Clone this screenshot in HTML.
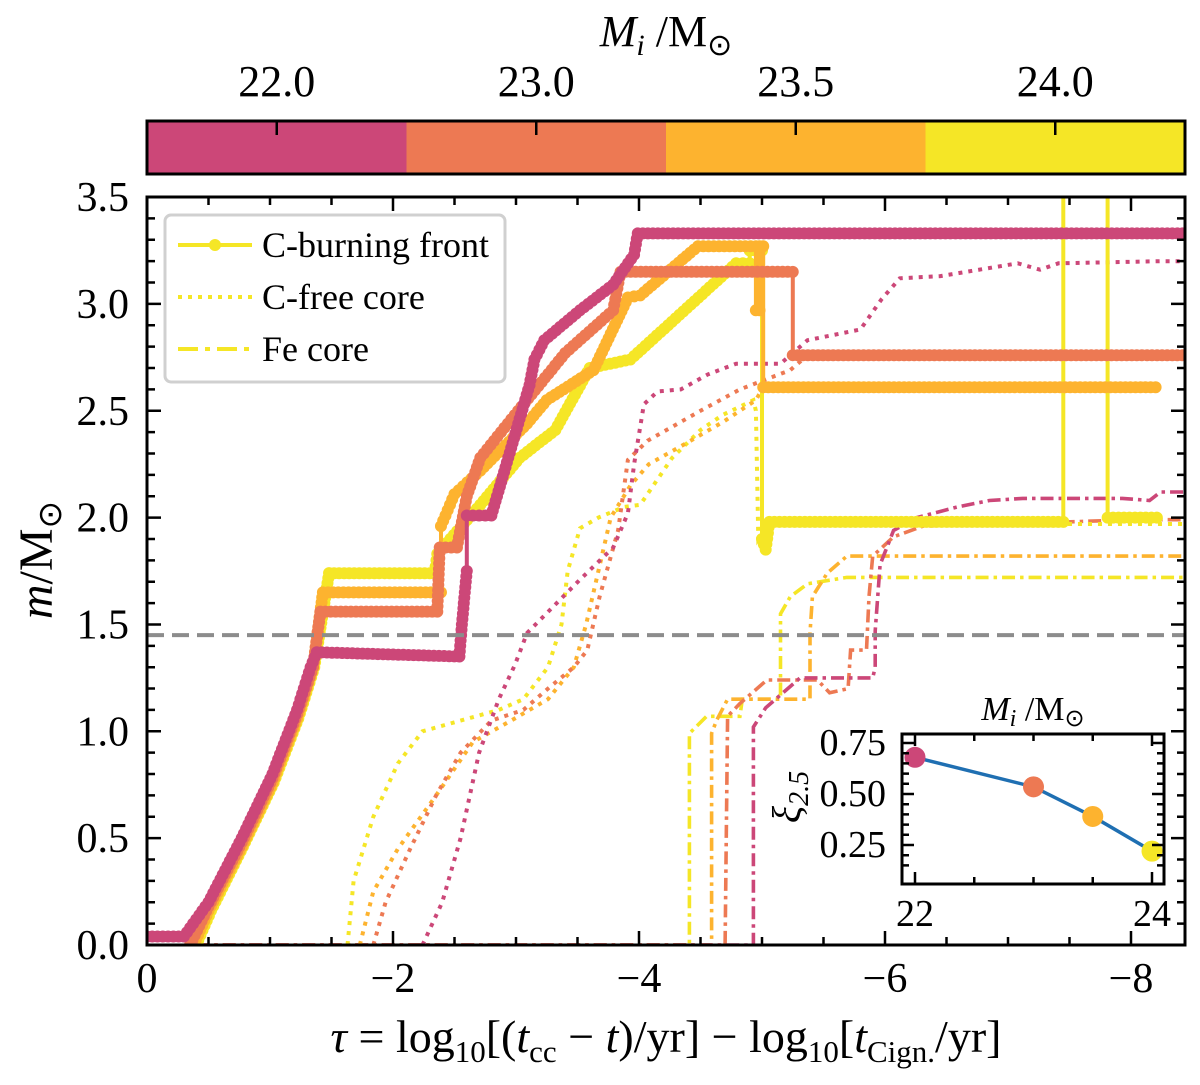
<!DOCTYPE html>
<html><head><meta charset="utf-8"><style>
body{margin:0;background:#fff;}
svg text{font-family:"Liberation Serif",serif;fill:#000;}
</style></head><body>
<svg id="fig" width="1200" height="1080" viewBox="0 0 1200 1080" xmlns="http://www.w3.org/2000/svg">
<g id="cbar"></g>
<g id="plot"></g>
<g id="inset"></g>
</svg>
<script>
// ---------- data ----------
const massLabels = ["22.0","23.0","23.5","24.0"];
const massValues = [22, 23, 23.5, 24];
const colors = ["#cc4778","#ed7953","#fdb32f","#f5e626"];
const xTicks = [0,-2,-4,-6,-8];
const xTickLabels = ["0","\u22122","\u22124","\u22126","\u22128"];
const yTicks = [0,0.5,1,1.5,2,2.5,3,3.5];
const yTickLabels = ["0.0","0.5","1.0","1.5","2.0","2.5","3.0","3.5"];
const chandraMass = 1.45;

const front22 = [[0,0.04],[-0.3,0.04],[-0.5,0.2],[-0.77,0.5],[-1.02,0.8],[-1.22,1.1],[-1.33,1.3],[-1.38,1.37],[-2.54,1.35],[-2.56,1.5],[-2.6,1.75],[-2.6,2.01],[-2.8,2.01],[-3.11,2.62],[-3.15,2.74],[-3.23,2.83],[-3.52,2.97],[-3.79,3.09],[-3.96,3.23],[-3.99,3.33],[-8.5,3.33]];
const front23 = [[-0.35,0],[-0.5,0.18],[-0.77,0.48],[-1.02,0.78],[-1.22,1.08],[-1.35,1.3],[-1.41,1.56],[-2.36,1.56],[-2.38,1.86],[-2.52,1.86],[-2.6,2.1],[-2.71,2.28],[-2.99,2.48],[-3.4,2.77],[-3.79,2.97],[-3.85,3.15],[-5.25,3.15],[-5.25,2.76],[-8.5,2.76]];
const front235 = [[-0.38,0],[-0.5,0.16],[-0.77,0.46],[-1.02,0.76],[-1.22,1.06],[-1.35,1.3],[-1.43,1.65],[-2.39,1.65],[-2.39,1.96],[-2.5,2.11],[-2.71,2.22],[-3.09,2.44],[-3.25,2.55],[-3.63,2.69],[-3.91,3.03],[-4.01,3.04],[-4.48,3.27],[-4.95,3.27],[-4.95,2.97],[-4.98,2.97],[-4.98,3.27],[-5.01,3.27],[-5.01,2.61],[-8.2,2.61]];
const front24 = [[-0.4,0],[-0.52,0.16],[-0.78,0.46],[-1.03,0.76],[-1.23,1.06],[-1.36,1.3],[-1.48,1.74],[-2.34,1.74],[-2.36,1.83],[-2.71,2.06],[-3.03,2.28],[-3.32,2.41],[-3.6,2.7],[-3.93,2.74],[-4.79,3.19],[-4.9,3.19],[-4.9,3.25],[-5.0,3.25],[-5.0,1.9],[-5.03,1.85],[-5.06,1.98],[-7.45,1.98],[-7.45,3.6],[-7.81,3.6],[-7.81,2.0],[-8.21,2.0]];

const cfree22 = [[-2.24,0],[-2.4,0.2],[-2.55,0.5],[-2.7,0.9],[-2.86,1.15],[-2.99,1.31],[-3.09,1.46],[-3.52,1.71],[-3.79,1.86],[-3.91,2.02],[-3.96,2.25],[-4.04,2.53],[-4.15,2.59],[-4.34,2.6],[-4.56,2.67],[-4.79,2.72],[-5.15,2.72],[-5.37,2.83],[-5.8,2.88],[-5.97,3.02],[-6.12,3.12],[-6.45,3.13],[-7.08,3.19],[-7.26,3.16],[-7.41,3.19],[-8.24,3.2],[-8.5,3.2]];
const cfree23 = [[-1.84,0],[-1.94,0.2],[-2.14,0.45],[-2.35,0.7],[-2.55,0.9],[-2.8,1.05],[-3.06,1.1],[-3.26,1.2],[-3.47,1.3],[-3.58,1.38],[-3.68,1.63],[-3.83,1.94],[-3.91,2.27],[-4.07,2.36],[-4.5,2.5],[-4.82,2.6],[-5.23,2.69],[-5.33,2.74]];
const cfree235 = [[-1.73,0],[-1.84,0.25],[-2.04,0.45],[-2.35,0.7],[-2.65,0.95],[-2.96,1.05],[-3.26,1.15],[-3.47,1.3],[-3.57,1.5],[-3.67,1.75],[-3.77,2.0],[-3.93,2.15],[-4.08,2.25],[-4.39,2.35],[-4.69,2.45],[-4.95,2.55],[-5.0,2.6]];
const cfree24 = [[-1.63,0],[-1.68,0.3],[-1.84,0.6],[-2.04,0.85],[-2.24,1.0],[-2.55,1.05],[-2.86,1.1],[-3.06,1.15],[-3.26,1.3],[-3.37,1.5],[-3.42,1.75],[-3.52,1.95],[-3.67,2.0],[-3.88,2.05],[-4.01,2.06],[-4.27,2.28],[-4.5,2.41],[-4.68,2.48],[-4.93,2.55],[-4.95,2.5],[-4.97,1.9],[-5.05,1.97],[-8.5,1.97]];

const fe22 = [[-0.4,0],[-4.93,0],[-4.93,1.02],[-5.03,1.11],[-5.31,1.25],[-5.9,1.25],[-5.92,1.3],[-5.92,1.47],[-5.96,1.78],[-6.07,1.94],[-6.26,2.0],[-6.59,2.05],[-6.85,2.08],[-7.12,2.09],[-7.93,2.09],[-8.15,2.08],[-8.24,2.12],[-8.5,2.12]];
const fe23 = [[-0.4,0],[-4.7,0],[-4.72,1.07],[-4.82,1.13],[-5.04,1.24],[-5.45,1.24],[-5.55,1.18],[-5.7,1.2],[-5.72,1.38],[-5.85,1.38],[-5.87,1.63],[-5.9,1.82],[-6.07,1.91],[-6.31,1.96],[-6.9,1.97],[-8.07,1.99],[-8.5,1.99]];
const fe235 = [[-0.4,0],[-4.59,0],[-4.59,0.99],[-4.63,1.05],[-4.72,1.15],[-5.39,1.15],[-5.39,1.46],[-5.41,1.63],[-5.53,1.74],[-5.69,1.82],[-8.5,1.82]];
const fe24 = [[-0.4,0],[-4.41,0],[-4.41,0.99],[-4.55,1.07],[-4.82,1.07],[-4.84,1.15],[-5.15,1.15],[-5.15,1.55],[-5.23,1.63],[-5.37,1.69],[-5.69,1.72],[-8.5,1.72]];

const insetMass = [22, 23, 23.5, 24];
const insetXi = [0.68, 0.535, 0.39, 0.22];
const insetXTicks = [22, 24];
const insetYTicks = [0.25, 0.5, 0.75];
const insetYTickLabels = ["0.25","0.50","0.75"];

// ---------- helpers ----------
const NS="http://www.w3.org/2000/svg";
function mk(tag, attrs, parent){const e=document.createElementNS(NS,tag);for(const k in attrs)e.setAttribute(k,attrs[k]);parent.appendChild(e);return e;}
const L=147,R=1185,T=197,B=945;
const xs = t => L + (-t)*123;
const ys = m => B - m*213.7;
const plot=document.getElementById('plot');
const cbar=document.getElementById('cbar');
const inset=document.getElementById('inset');

const defs=mk('defs',{},plot);
const cp=mk('clipPath',{id:'clipMain'},defs);
mk('rect',{x:L,y:T,width:R-L,height:B-T},cp);

// colorbar
const cbL=147,cbR=1185,cbT=121,cbB=174,segW=(cbR-cbL)/4;
massLabels.forEach((lab,i)=>{
  const r=mk('rect',{x:cbL+i*segW,y:cbT,width:segW+0.5,height:cbB-cbT,fill:colors[i]},cbar);
  
  
  const cx=cbL+(i+0.5)*segW;
  mk('line',{x1:cx,y1:cbT,x2:cx,y2:cbT+14,stroke:'#000','stroke-width':2.5},cbar);
  const t=mk('text',{x:cx,y:96,'font-size':44,'text-anchor':'middle'},cbar);
  t.textContent=lab;
  
  
});
mk('rect',{x:cbL,y:cbT,width:cbR-cbL,height:cbB-cbT,fill:'none',stroke:'#000','stroke-width':3},cbar);
const cbt=mk('text',{x:666,y:46,'font-size':44,'text-anchor':'middle'},cbar);
cbt.innerHTML='<tspan font-style="italic">M</tspan><tspan font-style="italic" font-size="30" dy="9">i</tspan><tspan dy="-9"> /M</tspan><tspan font-size="30" dy="9">⊙</tspan>';



// data lines
const gData=mk('g',{'clip-path':'url(#clipMain)'},plot);
function pathD(arr){return arr.map((p,i)=>(i?'L':'M')+xs(p[0]).toFixed(1)+' '+ys(p[1]).toFixed(1)).join(' ');}
const feSets=[fe24,fe235,fe23,fe22], cfSets=[cfree24,cfree235,cfree23,cfree22], frSets=[front24,front235,front23,front22];
const order=[3,2,1,0];
const ordMass=["24.0","23.5","23.0","22.0"];
order.forEach((ci,k)=>{
  const p=mk('path',{d:pathD(feSets[k]),fill:'none',stroke:colors[ci],'stroke-width':3.6,'stroke-dasharray':'13,5,3.5,5'},gData);
  
  
});
order.forEach((ci,k)=>{
  const p=mk('path',{d:pathD(cfSets[k]),fill:'none',stroke:colors[ci],'stroke-width':4,'stroke-dasharray':'4,6'},gData);
  
  
});
order.forEach((ci,k)=>{
  const arr=frSets[k];
  const g=mk('g',{},gData);
  
  
  mk('path',{d:pathD(arr),fill:'none',stroke:colors[ci],'stroke-width':4}, g);
  let dots='';
  const r=6;
  for(let i=0;i<arr.length;i++){
    const x0=xs(arr[i][0]),y0=ys(arr[i][1]);
    dots+=`M${x0-r} ${y0}a${r} ${r} 0 1 0 ${2*r} 0a${r} ${r} 0 1 0 ${-2*r} 0`;
    if(i<arr.length-1){
      const x1=xs(arr[i+1][0]),y1=ys(arr[i+1][1]);
      const dx=x1-x0,dy=y1-y0;
      if(Math.abs(dx)<1)continue;
      const len=Math.hypot(dx,dy),n=Math.floor(len/5);
      for(let j=1;j<n;j++){const x=x0+dx*j/n,y=y0+dy*j/n;dots+=`M${(x-r).toFixed(1)} ${y.toFixed(1)}a${r} ${r} 0 1 0 ${2*r} 0a${r} ${r} 0 1 0 ${-2*r} 0`;}
    }
  }
  mk('path',{d:dots,fill:colors[ci]},g);
});
const dl=mk('line',{x1:L,y1:ys(chandraMass),x2:R,y2:ys(chandraMass),stroke:'#8c8c8c','stroke-width':4,'stroke-dasharray':'17,8'},plot);



// axes frame & ticks
mk('rect',{x:L,y:T,width:R-L,height:B-T,fill:'none',stroke:'#000','stroke-width':3},plot);
let tk='';
for(let v=0;v>=-8.4;v-=0.5){const x=xs(v);const major=Math.abs(v%2)<1e-6;const l=major?14:8;tk+=`M${x} ${B}v${-l}M${x} ${T}v${l}`;}
for(let v=0;v<=3.5001;v+=0.1){const y=ys(v);const major=Math.abs(v*2-Math.round(v*2))<1e-6;const l=major?14:8;tk+=`M${L} ${y}h${l}M${R} ${y}h${-l}`;}
mk('path',{d:tk,stroke:'#000','stroke-width':2.5,fill:'none'},plot);
xTicks.forEach((v,i)=>{const t=mk('text',{x:xs(v),y:992,'font-size':42,'text-anchor':'middle'},plot);t.textContent=xTickLabels[i];
  
  });
yTicks.forEach((v,i)=>{const t=mk('text',{x:129,y:ys(v)+14,'font-size':42,'text-anchor':'end'},plot);t.textContent=yTickLabels[i];
  
  });
const xl=mk('text',{x:666,y:1052,'font-size':46,'text-anchor':'middle'},plot);
xl.innerHTML='<tspan font-style="italic">τ</tspan> = log<tspan font-size="31" dy="10">10</tspan><tspan dy="-10">[(</tspan><tspan font-style="italic">t</tspan><tspan font-size="31" dy="10">cc</tspan><tspan dy="-10"> − </tspan><tspan font-style="italic">t</tspan>)/yr] − log<tspan font-size="31" dy="10">10</tspan><tspan dy="-10">[</tspan><tspan font-style="italic">t</tspan><tspan font-size="31" dy="10">Cign.</tspan><tspan dy="-10">/yr]</tspan>';


const yl=mk('text',{x:0,y:0,'font-size':48,'text-anchor':'middle',transform:'translate(52 560) rotate(-90)'},plot);
yl.innerHTML='<tspan font-style="italic">m</tspan>/M<tspan font-size="33" dy="9">⊙</tspan>';



// legend
const lg=mk('g',{},plot);


mk('rect',{x:165,y:215,width:340,height:167,rx:6,fill:'#fff','fill-opacity':0.85,stroke:'#d0d0d0','stroke-width':3},lg);
const legItems=[["C-burning front",'solid'],["C-free core",'dot'],["Fe core",'dashdot']];
legItems.forEach((it,i)=>{
  const y=245+i*52;
  const g=mk('g',{},lg);
  
  
  const a={x1:178,y1:y,x2:252,y2:y,stroke:colors[3],'stroke-width':it[1]==='solid'?4:4};
  if(it[1]==='dot')a['stroke-dasharray']='4,6';
  if(it[1]==='dashdot')a['stroke-dasharray']='20,7,5,7';
  mk('line',a,g);
  if(it[1]==='solid')mk('circle',{cx:215,cy:y,r:6,fill:colors[3]},g);
  const t=mk('text',{x:262,y:y+12,'font-size':36},g);t.textContent=it[0];
});

// inset
const iL=902,iR=1164,iT=734,iB=884;
const ix=m=>915+(m-22)*(1152-915)/2;
const iy=v=>845-(v-0.25)*(845-743)/0.5;
const ip=insetMass.map((m,i)=>(i?'L':'M')+ix(m)+' '+iy(insetXi[i])).join(' ');
mk('rect',{x:iL,y:iT,width:iR-iL,height:iB-iT,fill:'#fff'},inset);
const il=mk('path',{d:ip,fill:'none',stroke:'#1f6fb2','stroke-width':3.5},inset);


insetMass.forEach((m,i)=>{const c=mk('circle',{cx:ix(m),cy:iy(insetXi[i]),r:10.5,fill:colors[i]},inset);
  
  });
let it2='';
for(let m=22;m<=24.001;m+=0.5){const x=ix(m);const major=(m===22||m===24);const l=major?12:7;it2+=`M${x} ${iB}v${-l}M${x} ${iT}v${l}`;}
for(let v=0.15;v<=0.8;v+=0.05){const y=iy(v);if(y<iT+1||y>iB-1)continue;const major=Math.abs(v*4-Math.round(v*4))<1e-6;const l=major?12:7;it2+=`M${iL} ${y}h${l}M${iR} ${y}h${-l}`;}
mk('path',{d:it2,stroke:'#000','stroke-width':2.5,fill:'none'},inset);
mk('rect',{x:iL,y:iT,width:iR-iL,height:iB-iT,fill:'none',stroke:'#000','stroke-width':3},inset);
insetXTicks.forEach(m=>{const t=mk('text',{x:ix(m),y:926,'font-size':38,'text-anchor':'middle'},inset);t.textContent=String(m);
  
  });
insetYTicks.forEach((v,i)=>{const t=mk('text',{x:886,y:iy(v)+12,'font-size':38,'text-anchor':'end'},inset);t.textContent=insetYTickLabels[i];
  
  });
const itl=mk('text',{x:1033,y:720,'font-size':34,'text-anchor':'middle'},inset);
itl.innerHTML='<tspan font-style="italic">M</tspan><tspan font-style="italic" font-size="24" dy="6">i</tspan><tspan dy="-6"> /M</tspan><tspan font-size="24" dy="6">⊙</tspan>';


const iyl=mk('text',{x:0,y:0,'font-size':40,'text-anchor':'middle',transform:'translate(800 797) rotate(-90)'},inset);
iyl.innerHTML='<tspan font-style="italic">ξ</tspan><tspan font-style="italic" font-size="28" dy="8">2.5</tspan>';


</script>
</body></html>
